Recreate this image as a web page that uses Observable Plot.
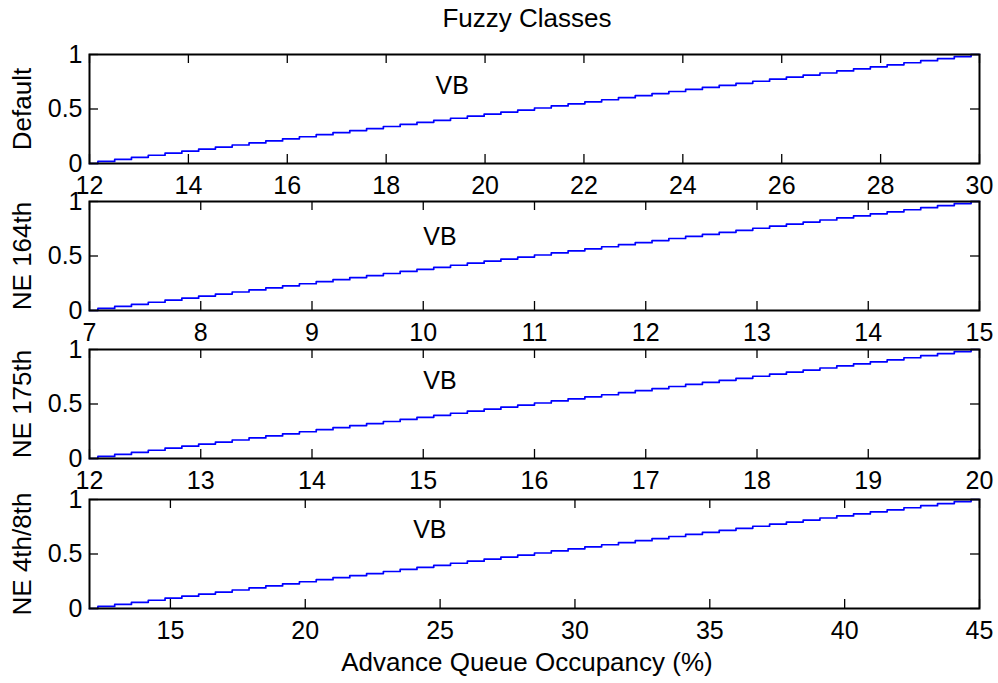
<!DOCTYPE html>
<html>
<head>
<meta charset="utf-8">
<script src="https://cdn.jsdelivr.net/npm/d3@7"></script>
<script src="https://cdn.jsdelivr.net/npm/@observablehq/plot@0.6"></script>
<style>
  html, body { margin: 0; padding: 0; background: #fff; }
  #root { position: relative; width: 998px; height: 683px; overflow: hidden; font-family: Arial, "Liberation Sans", Helvetica, sans-serif; }
  .panel { position: absolute; left: 0; }
  .panel svg { overflow: visible; }
  .title, .xlabel { position: absolute; left: 0; text-align: center; color: #000; white-space: nowrap; line-height: 1; }
  .ylabel { position: absolute; width: 200px; height: 28px; line-height: 28px; text-align: center; color: #000; white-space: nowrap; transform: rotate(-90deg); transform-origin: 50% 50%; }
</style>
</head>
<body>
<div id="root"></div>
<script>
// ---- data ----
const chartTitle = "Fuzzy Classes";
const xAxisTitle = "Advance Queue Occupancy (%)";
const panelNames = ["Default", "NE 164th", "NE 175th", "NE 4th/8th"];
const xDomains = [[12, 30], [7, 15], [12, 20], [12, 45]];
const xTickValues = [
  [12, 14, 16, 18, 20, 22, 24, 26, 28, 30],
  [7, 8, 9, 10, 11, 12, 13, 14, 15],
  [12, 13, 14, 15, 16, 17, 18, 19, 20],
  [15, 20, 25, 30, 35, 40, 45]
];
const yTickValues = [0, 0.5, 1];
const className = "VB";
// class label anchor (x in axis units, membership y)
const classLabelX = [19.0, 10.0, 15.0, 24.0];
const classLabelY = [0.71, 0.67, 0.71, 0.72];
// sampled membership degree of class VB (54 samples across each range, read as stairs)
const membership = [
  0, 0.0189, 0.0377, 0.0566, 0.0755, 0.0943, 0.1132, 0.1321, 0.1509, 0.1698,
  0.1887, 0.2075, 0.2264, 0.2453, 0.2642, 0.2830, 0.3019, 0.3208, 0.3396, 0.3585,
  0.3774, 0.3962, 0.4151, 0.4340, 0.4528, 0.4717, 0.4906, 0.5094, 0.5283, 0.5472,
  0.5660, 0.5849, 0.6038, 0.6226, 0.6415, 0.6604, 0.6792, 0.6981, 0.7170, 0.7358,
  0.7547, 0.7736, 0.7925, 0.8113, 0.8302, 0.8491, 0.8679, 0.8868, 0.9057, 0.9245,
  0.9434, 0.9623, 0.9811, 1
];

// ---- layout ----
const W = 998;
const frameLeft = 89, frameRight = 979;
const panelTops = [54, 201, 349, 499];
const panelH = 109;
const padTop = 12, padBottom = 45;
const fontSize = 25;
const labelSize = 26;
const tickLen = 9;
const textCenter = 527;

const root = document.getElementById("root");

const title = document.createElement("div");
title.className = "title";
title.textContent = chartTitle;
title.style.width = (2 * textCenter) + "px";
title.style.top = "5px";
title.style.fontSize = labelSize + "px";
root.appendChild(title);

panelNames.forEach((name, i) => {
  const [lo, hi] = xDomains[i];
  const pts = membership.map(m => ({x: lo + m * (hi - lo), y: m}));
  const plotW = frameRight - frameLeft;
  const plot = Plot.plot({
    width: W,
    height: panelH + padTop + padBottom,
    marginLeft: frameLeft,
    marginRight: W - frameRight,
    marginTop: padTop,
    marginBottom: padBottom,
    style: {fontFamily: "Arial, 'Liberation Sans', Helvetica, sans-serif", fontSize: fontSize + "px", color: "#000", background: "transparent", overflow: "visible"},
    x: {domain: [lo, hi]},
    y: {domain: [0, 1]},
    marks: [
      Plot.line(pts, {x: "x", y: "y", curve: "step", stroke: "#0000ff", strokeWidth: 1.7}),
      Plot.tickX(xTickValues[i], {x: d => d, insetTop: panelH - tickLen, stroke: "#000", strokeWidth: 1.3}),
      Plot.tickX(xTickValues[i], {x: d => d, insetBottom: panelH - tickLen, stroke: "#000", strokeWidth: 1.3}),
      Plot.tickY(yTickValues, {y: d => d, insetRight: plotW - tickLen, stroke: "#000", strokeWidth: 1.3}),
      Plot.tickY(yTickValues, {y: d => d, insetLeft: plotW - tickLen, stroke: "#000", strokeWidth: 1.3}),
      Plot.frame({stroke: "#000", strokeWidth: 2}),
      Plot.axisX({ticks: xTickValues[i], tickSize: 0, tickPadding: 13, tickFormat: d => String(d), fontSize: fontSize, label: null}),
      Plot.axisY({ticks: yTickValues, tickSize: 0, tickPadding: 7, tickFormat: d => String(d), fontSize: fontSize, label: null}),
      Plot.text([className], {x: classLabelX[i], y: classLabelY[i], text: d => d, textAnchor: "start", fontSize: fontSize, fill: "#000"})
    ]
  });
  const div = document.createElement("div");
  div.className = "panel";
  div.style.top = (panelTops[i] - padTop) + "px";
  div.appendChild(plot);
  root.appendChild(div);

  const yl = document.createElement("div");
  yl.className = "ylabel";
  yl.textContent = name;
  yl.style.fontSize = labelSize + "px";
  const cx = 22, cy = panelTops[i] + panelH / 2;
  yl.style.left = (cx - 100) + "px";
  yl.style.top = (cy - 14) + "px";
  root.appendChild(yl);
});

const xl = document.createElement("div");
xl.className = "xlabel";
xl.textContent = xAxisTitle;
xl.style.width = (2 * textCenter) + "px";
xl.style.top = "649px";
xl.style.fontSize = labelSize + "px";
root.appendChild(xl);
</script>
</body>
</html>
